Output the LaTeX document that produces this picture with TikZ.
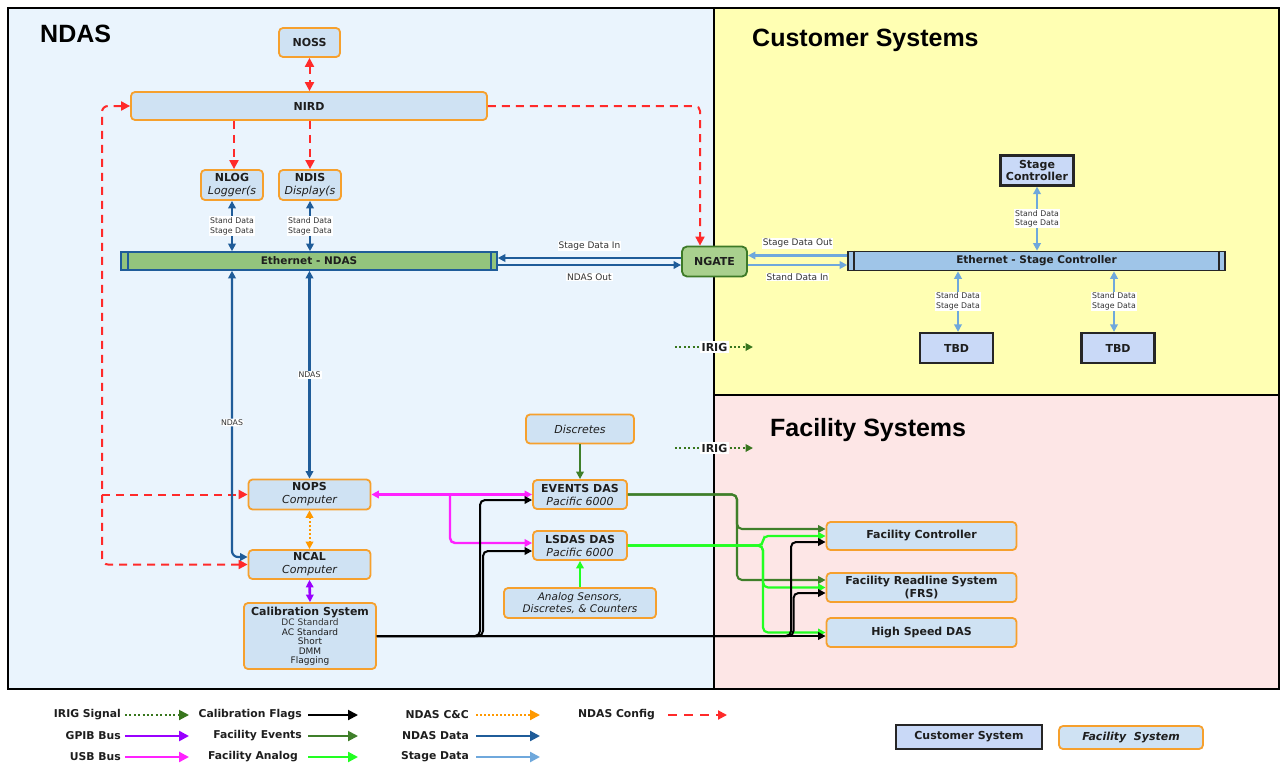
\documentclass[tikz,border=0pt]{standalone}
\usepackage{fontspec}
\setmainfont{DejaVu Sans}
\newfontfamily\titlefont{Liberation Sans}
\usetikzlibrary{arrows.meta,calc}

\definecolor{bgndas}{HTML}{EAF4FD}
\definecolor{bgcust}{HTML}{FFFFB3}
\definecolor{bgfac}{HTML}{FDE6E6}
\definecolor{nodefill}{HTML}{CFE2F3}
\definecolor{orangeb}{HTML}{F6A02D}
\definecolor{custfill}{HTML}{C9D9F7}
\definecolor{ethgreen}{HTML}{93C47D}
\definecolor{ethblue}{HTML}{9FC5E8}
\definecolor{ngatefill}{HTML}{A9D08E}
\definecolor{ngateb}{HTML}{3D7A27}
\definecolor{dblue}{HTML}{1F5C99}
\definecolor{lblue}{HTML}{6FA8DC}
\definecolor{cfgred}{HTML}{FF2A2A}
\definecolor{irigg}{HTML}{38761D}
\definecolor{fevg}{HTML}{3F7F2A}
\definecolor{fang}{HTML}{22FF22}
\definecolor{gpibc}{HTML}{9900FF}
\definecolor{usbm}{HTML}{FF22FF}
\definecolor{ccor}{HTML}{FF9900}
\definecolor{txt}{HTML}{1E1E1E}

\begin{document}
\begin{tikzpicture}[x=1pt,y=-1pt,
  >={Triangle[length=7.5pt,width=7.5pt]},
  fac/.style={draw=orangeb, line width=1.8pt, fill=nodefill, rounded corners=4pt, inner sep=0pt, align=center, text=txt, font=\fontsize{11}{13}\selectfont},
  cust/.style={draw=black!85, line width=2.2pt, fill=custfill, inner sep=0pt, align=center, text=txt, font=\fontsize{11}{12.5}\selectfont\bfseries},
  lbl/.style={fill=white, inner sep=1pt, align=center, text=black!80, font=\fontsize{7.8}{9.6}\selectfont},
  lbltwo/.style={fill=white, inner sep=1pt, text=black!80, font=\fontsize{9}{11}\selectfont},
  ttl/.style={anchor=base west, inner sep=0pt, text=black, font=\titlefont\bfseries\fontsize{25}{28}\selectfont},
  leg/.style={anchor=east, inner sep=0pt, text=txt, font=\fontsize{10.8}{12}\selectfont\bfseries},
  ndat/.style={draw=dblue, line width=2.2pt},
  sdat/.style={draw=lblue, line width=2.4pt},
  cfg/.style={draw=cfgred, line width=2pt, dash pattern=on 8pt off 6pt, >={Triangle[length=9pt,width=9pt]}},
  irig/.style={draw=irigg, line width=2pt, dash pattern=on 2pt off 2.4pt},
  flag/.style={draw=black, line width=2pt},
  fev/.style={draw=fevg, line width=2.1pt},
  fan/.style={draw=fang, line width=2.2pt},
  gpibs/.style={draw=gpibc, line width=2.6pt},
  usbs/.style={draw=usbm, line width=2.4pt},
  ccs/.style={draw=ccor, line width=2pt, dash pattern=on 2pt off 2pt},
]
\useasboundingbox (0,0) rectangle (1281,776);
\fill[white] (0,0) rectangle (1281,776);

% regions
\draw[line width=1.6pt, fill=bgndas] (8,8) rectangle (714,689);
\draw[line width=1.6pt, fill=bgcust] (714,8) rectangle (1279,395);
\draw[line width=1.6pt, fill=bgfac] (714,395) rectangle (1279,689);
\node[ttl] (tndas) at (40,43) {NDAS};
\node[ttl] (tcust) at (752,47) {Customer Systems};
\node[ttl] (tfac) at (770,436) {Facility Systems};

% NDAS nodes
\node[fac, minimum width=61pt, minimum height=29pt] (noss) at (309.5,42.5) {\bfseries NOSS};
\node[fac, minimum width=356pt, minimum height=28pt] (nird) at (309,106) {\bfseries NIRD};
\node[fac, minimum width=62pt, minimum height=30pt] (nlog) at (232,185) {\bfseries NLOG\\\itshape Logger(s};
\node[fac, minimum width=62pt, minimum height=30pt] (ndis) at (310,185) {\bfseries NDIS\\\itshape Display(s};
\node[draw=dblue, line width=1.6pt, fill=ethgreen, minimum width=376pt, minimum height=18pt, inner sep=0pt, text=txt, font=\fontsize{10.5}{12}\selectfont\bfseries] (ethn) at (309,261) {Ethernet - NDAS};
\draw[dblue, line width=1.5pt] ([xshift=8pt]ethn.north west) -- ([xshift=8pt]ethn.south west);
\draw[dblue, line width=1.5pt] ([xshift=-7pt]ethn.north east) -- ([xshift=-7pt]ethn.south east);
\node[draw=ngateb, fill=ngatefill, line width=1.8pt, rounded corners=5pt, minimum width=65pt, minimum height=30pt, inner sep=0pt, text=txt, font=\fontsize{11}{13}\selectfont\bfseries] (ngate) at (714.5,261.5) {NGATE};

\node[fac, minimum width=108pt, minimum height=29pt] (disc) at (580,429) {\itshape Discretes};
\node[fac, minimum width=122pt, minimum height=30pt] (nops) at (309.5,494.5) {\bfseries NOPS\\\itshape Computer};
\node[fac, minimum width=94pt, minimum height=29pt] (evt) at (580,494.5) {\bfseries EVENTS DAS\\\itshape Pacific 6000};
\node[fac, minimum width=94pt, minimum height=29pt] (lsd) at (580,545.5) {\bfseries LSDAS DAS\\\itshape Pacific 6000};
\node[fac, minimum width=122pt, minimum height=29pt] (ncal) at (309.5,564.5) {\bfseries NCAL\\\itshape Computer};
\node[fac, minimum width=132pt, minimum height=66pt, font=\fontsize{9}{9.4}\selectfont] (cal) at (310,636) {{\fontsize{11}{13}\selectfont\bfseries Calibration System}\\[1.5pt]\color{black!80}DC Standard\\AC Standard\\Short\\DMM\\Flagging};
\node[fac, minimum width=152pt, minimum height=30pt, font=\fontsize{10.5}{12.5}\selectfont\itshape] (ana) at (580,603) {Analog Sensors,\\Discretes, \& Counters};

% Facility nodes
\node[fac, minimum width=190pt, minimum height=28pt, font=\fontsize{11}{13}\selectfont\bfseries] (fc) at (921.5,536) {Facility Controller};
\node[fac, minimum width=190pt, minimum height=29pt, font=\fontsize{11}{13}\selectfont\bfseries] (frs) at (921.5,587.5) {Facility Readline System\\(FRS)};
\node[fac, minimum width=190pt, minimum height=29pt, font=\fontsize{11}{13}\selectfont\bfseries] (hsd) at (921.5,632.5) {High Speed DAS};

% Customer nodes
\node[cust, minimum width=73pt, minimum height=30pt] (stagec) at (1037,170.5) {Stage\\Controller};
\node[draw=black!85, line width=1.6pt, fill=ethblue, minimum width=377pt, minimum height=19pt, inner sep=0pt, text=txt, font=\fontsize{10.5}{12}\selectfont\bfseries] (ethsc) at (1036.5,261) {Ethernet - Stage Controller};
\draw[black!85, line width=1.5pt] ([xshift=7pt]ethsc.north west) -- ([xshift=7pt]ethsc.south west);
\draw[black!85, line width=1.5pt] ([xshift=-7pt]ethsc.north east) -- ([xshift=-7pt]ethsc.south east);
\node[cust, minimum width=73pt, minimum height=30pt] (tbda) at (956.5,348) {TBD};
\node[cust, minimum width=73pt, minimum height=30pt] (tbdb) at (1118,348) {TBD};

% IRIG markers
\node[fill=white, inner sep=2pt, text=txt, font=\fontsize{11}{13}\selectfont\bfseries] (iriga) at (714.5,347) {IRIG};
\coordinate (irigas) at (675,347);
\coordinate (irigae) at (753,347);
\draw[irig] (irigas) -- (iriga.west);
\draw[irig,->] (iriga.east) -- (irigae);
\node[fill=white, inner sep=2pt, text=txt, font=\fontsize{11}{13}\selectfont\bfseries] (irigb) at (714.5,448) {IRIG};
\coordinate (irigbs) at (675,448);
\coordinate (irigbe) at (753,448);
\draw[irig] (irigbs) -- (irigb.west);
\draw[irig,->] (irigb.east) -- (irigbe);

% NDAS config (red dashed)
\draw[cfg,<->] (noss.south) -- (noss.south |- nird.north);
\draw[cfg,->] ([xshift=2pt]nlog.north |- nird.south) -- ([xshift=2pt]nlog.north);
\draw[cfg,->] (ndis.north |- nird.south) -- (ndis.north);
\draw[cfg,->,rounded corners=5pt] (nird.east) -| ([xshift=-14.5pt]ngate.north);
\coordinate (cfgl) at (102,106);
\draw[cfg,<->,rounded corners=6pt] (ncal.west) -| (cfgl) -- (nird.west);
\draw[cfg,->] (cfgl |- nops.west) -- (nops.west);

% NDAS data (dark blue)
\draw[ndat,<->] (nlog.south) -- node[lbl]{Stand Data\\Stage Data} (nlog.south |- ethn.north);
\draw[ndat,<->] (ndis.south) -- node[lbl]{Stand Data\\Stage Data} (ndis.south |- ethn.north);
\draw[ndat,<->] (nops.north |- ethn.south) -- node[lbl]{NDAS} (nops.north);
\coordinate (ncalj) at (232,557);
\draw[ndat,<->,rounded corners=6pt] (nlog.south |- ethn.south) -- node[lbl,pos=0.53]{NDAS} (ncalj) -- ([yshift=7.5pt]ncal.west);
\draw[ndat,->] ([yshift=3.5pt]ngate.west) -- node[lbltwo,yshift=12pt]{Stage Data In} ([yshift=3.5pt]ngate.west -| ethn.east);
\draw[ndat,->] ([yshift=-3.5pt]ngate.west -| ethn.east) -- node[lbltwo,yshift=-12pt]{NDAS Out} ([yshift=-3.5pt]ngate.west);

% Stage data (light blue)
\draw[sdat,->] ([yshift=6pt]ngate.east -| ethsc.west) -- node[lbltwo,yshift=12pt]{Stage Data Out} ([yshift=6pt]ngate.east);
\draw[sdat,->] ([yshift=-3.5pt]ngate.east) -- node[lbltwo,yshift=-12pt]{Stand Data In} ([yshift=-3.5pt]ngate.east -| ethsc.west);
\draw[sdat,<->] (stagec.south) -- node[lbl]{Stand Data\\Stage Data} (stagec.south |- ethsc.north);
\draw[sdat,<->] ([xshift=1.5pt]tbda.north |- ethsc.south) -- node[lbl]{Stand Data\\Stage Data} ([xshift=1.5pt]tbda.north);
\draw[sdat,<->] ([xshift=-4pt]tbdb.north |- ethsc.south) -- node[lbl]{Stand Data\\Stage Data} ([xshift=-4pt]tbdb.north);

% lower NDAS links
\draw[fev,->] (disc.south) -- (evt.north);
\draw[fan,->] (ana.north) -- (lsd.south);
\draw[ccs,<->] (nops.south) -- (ncal.north);
\draw[gpibs,<->] (ncal.south) -- (cal.north);
\draw[usbs,<->] (nops.east) -- (evt.west);
\coordinate (usbj) at (450,494.5);
\draw[usbs,->,rounded corners=5pt] (usbj) |- ([yshift=2.5pt]lsd.west);

% facility events (dark green)
\coordinate (fej) at (737,494.5);
\draw[fev,->,rounded corners=5pt] (evt.east) -- (fej) |- ([yshift=7pt]fc.west);
\draw[fev,->,rounded corners=5pt] (evt.east) -- (fej) |- ([yshift=7.5pt]frs.west);

% facility analog (bright green)
\coordinate (faj) at (763,545.5);
\draw[fan,->,rounded corners=5pt] (lsd.east) -- (faj) |- (fc.west);
\draw[fan,->,rounded corners=5pt] (lsd.east) -- (faj) |- (frs.west);
\draw[fan,->,rounded corners=5pt] (lsd.east) -- (faj) |- (hsd.west);

% calibration flags (black)
\coordinate (cfa) at (480,636);
\coordinate (cfb) at (791,636);
\draw[flag,->] (cal.east) -- ([yshift=-3.5pt]hsd.west);
\draw[flag,->,rounded corners=5pt] (cal.east) -- (cfa) |- ([yshift=-5.5pt]evt.west);
\draw[flag,->,rounded corners=5pt] (cal.east) -- ([xshift=3pt]cfa) |- ([yshift=-5.5pt]lsd.west);
\draw[flag,->,rounded corners=5pt] (cal.east) -- (cfb) |- ([yshift=-6pt]fc.west);
\draw[flag,->,rounded corners=5pt] (cal.east) -- ([xshift=2.5pt]cfb) |- ([yshift=-5.5pt]frs.west);

% legend
\begin{scope}[>={Triangle[length=10pt,width=10pt]}]
\node[leg] (lga) at (121,715) {IRIG Signal};
\draw[irig,->] ([xshift=4pt]lga.east) -- ++(64,0);
\node[leg] (lgb) at (121,736) {GPIB Bus};
\draw[gpibs,->] ([xshift=4pt]lgb.east) -- ++(64,0);
\node[leg] (lgc) at (121,757) {USB Bus};
\draw[usbs,->] ([xshift=4pt]lgc.east) -- ++(64,0);
\node[leg] (lgd) at (302,715) {Calibration Flags};
\draw[flag,->] ([xshift=6pt]lgd.east) -- ++(50,0);
\node[leg] (lge) at (302,736) {Facility Events};
\draw[fev,->] ([xshift=6pt]lge.east) -- ++(50,0);
\node[leg] (lgf) at (298,757) {Facility Analog};
\draw[fan,->] ([xshift=10pt]lgf.east) -- ++(50,0);
\node[leg] (lgg) at (469,715) {NDAS C\&C};
\draw[ccs,->] ([xshift=7pt]lgg.east) -- ++(64,0);
\node[leg] (lgh) at (469,736) {NDAS Data};
\draw[ndat,->] ([xshift=7pt]lgh.east) -- ++(64,0);
\node[leg] (lgi) at (469,757) {Stage Data};
\draw[sdat,->] ([xshift=7pt]lgi.east) -- ++(64,0);
\node[leg] (lgj) at (655,715) {NDAS Config};
\draw[cfg,dash pattern=on 9pt off 7pt,->] ([xshift=13pt]lgj.east) -- ++(59,0);
\end{scope}
\node[cust, minimum width=146pt, minimum height=24pt] (lgcust) at (969,737) {Customer System};
\node[fac, minimum width=144pt, minimum height=23pt, font=\fontsize{11}{13}\selectfont\bfseries\itshape] (lgfac) at (1131,737.5) {Facility\ \ System};
\end{tikzpicture}
\end{document}
